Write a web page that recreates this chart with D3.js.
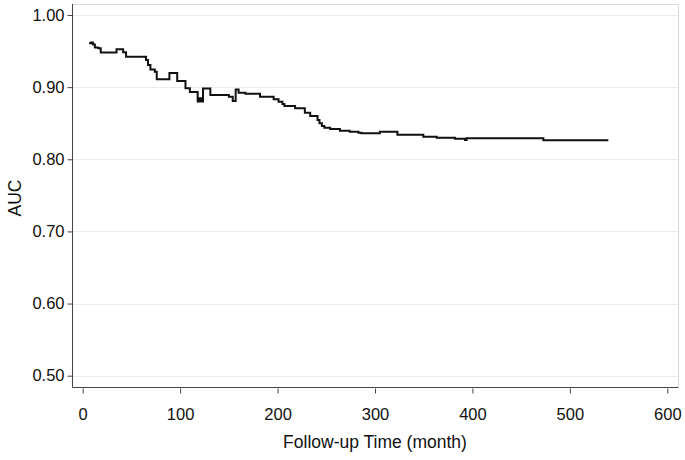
<!DOCTYPE html>
<html>
<head>
<meta charset="utf-8">
<script src="https://cdn.jsdelivr.net/npm/d3@7/dist/d3.min.js"></script>
<style>
  html, body { margin: 0; padding: 0; background: #fff; }
  svg { display: block; font-family: "Liberation Sans", Arial, Helvetica, sans-serif; }
</style>
</head>
<body>
<svg id="chart" width="685" height="460"></svg>
<script>
// ---- data ----
const months = [6.5, 8.5, 10.5, 12.5, 16, 18.5, 34.7, 41.5, 44.5, 65, 67, 69.5, 74, 76,
  89, 97, 105.5, 110, 118, 120, 121.5, 123.5, 131, 150, 154, 157, 160, 167, 182, 196,
  201, 205, 207, 218, 228, 233.5, 241, 243, 245.5, 248, 254, 264, 274, 283, 286, 305,
  323, 349.6, 363.3, 382, 392.4, 394, 472.8, 539.5];
const auc = [0.961, 0.962, 0.959, 0.955, 0.954, 0.948, 0.9525, 0.9483, 0.9422, 0.9376, 0.9307, 0.9245, 0.9214, 0.9109,
  0.9196, 0.9084, 0.8985, 0.8933, 0.8800, 0.8845, 0.8800, 0.8980, 0.8891, 0.8867, 0.8808, 0.8967, 0.8923, 0.8910, 0.8867, 0.8831,
  0.8798, 0.8766, 0.8739, 0.8707, 0.8646, 0.8600, 0.8545, 0.8499, 0.8461, 0.8438, 0.8420, 0.8396, 0.8382, 0.8368, 0.8360, 0.8382,
  0.8340, 0.8313, 0.8299, 0.8285, 0.8267, 0.8290, 0.8263, 0.8263];
const xTicks = [0, 100, 200, 300, 400, 500, 600];
const yTicks = [0.50, 0.60, 0.70, 0.80, 0.90, 1.00];
const xTitle = "Follow-up Time (month)";
const yTitle = "AUC";

// ---- layout ----
const svg = d3.select("#chart");
const frame = { left: 72, right: 678, top: 4, bottom: 387 };

const x = d3.scaleLinear().domain([0, 600]).range([82.7, 667.3]);
const y = d3.scaleLinear().domain([0.5, 1.0]).range([375.7, 15]);

// gridlines
svg.append("g").selectAll("line").data(yTicks).join("line")
  .attr("x1", frame.left).attr("x2", frame.right)
  .attr("y1", d => Math.round(y(d)) + 0.5).attr("y2", d => Math.round(y(d)) + 0.5)
  .attr("stroke", "#ebebeb").attr("stroke-width", 1);

// light top/right frame
svg.append("path")
  .attr("d", `M${frame.left},${frame.top + 0.5}H${frame.right + 0.5}V${frame.bottom}`)
  .attr("fill", "none").attr("stroke", "#d9d9d9").attr("stroke-width", 1);

// y axis (domain = left frame line)
const yAxis = d3.axisLeft(y).tickValues(yTicks).tickFormat(d3.format(".2f")).tickSize(5).tickSizeOuter(0).tickPadding(3);
const gy = svg.append("g").attr("transform", `translate(${frame.left + 0.5},0)`).call(yAxis);
gy.select(".domain").remove();
gy.selectAll(".tick line").attr("stroke", "#444");
gy.selectAll(".tick text").attr("font-size", 16.5).attr("fill", "#111")
  .attr("font-family", "Liberation Sans, Arial, sans-serif");

// x axis (ticks hanging below the frame)
const xAxis = d3.axisBottom(x).tickValues(xTicks).tickFormat(d3.format("d")).tickSize(5).tickSizeOuter(0).tickPadding(15);
const gx = svg.append("g").attr("transform", `translate(0,${frame.bottom + 1.5})`).call(xAxis);
gx.select(".domain").remove();
gx.selectAll(".tick line").attr("stroke", "#444");
gx.selectAll(".tick text").attr("font-size", 16.5).attr("fill", "#111")
  .attr("font-family", "Liberation Sans, Arial, sans-serif");

// dark left/bottom frame
svg.append("path")
  .attr("d", `M${frame.left + 0.5},${frame.top}V${frame.bottom + 0.5}H${frame.right + 0.5}`)
  .attr("fill", "none").attr("stroke", "#444").attr("stroke-width", 1);

// curve
const pts = months.map((m, i) => [m, auc[i]]);
const line = d3.line().x(d => x(d[0])).y(d => y(d[1])).curve(d3.curveStepAfter);
svg.append("path").datum(pts)
  .attr("d", line)
  .attr("fill", "none").attr("stroke", "#111").attr("stroke-width", 2)
  .attr("stroke-linejoin", "miter");

// titles
svg.append("text").attr("x", (frame.left + frame.right) / 2).attr("y", 448)
  .attr("text-anchor", "middle").attr("font-size", 17.5).attr("fill", "#111").text(xTitle);
svg.append("text").attr("transform", `translate(21,198) rotate(-90)`)
  .attr("text-anchor", "middle").attr("font-size", 17.5).attr("fill", "#111").text(yTitle);
</script>
</body>
</html>
